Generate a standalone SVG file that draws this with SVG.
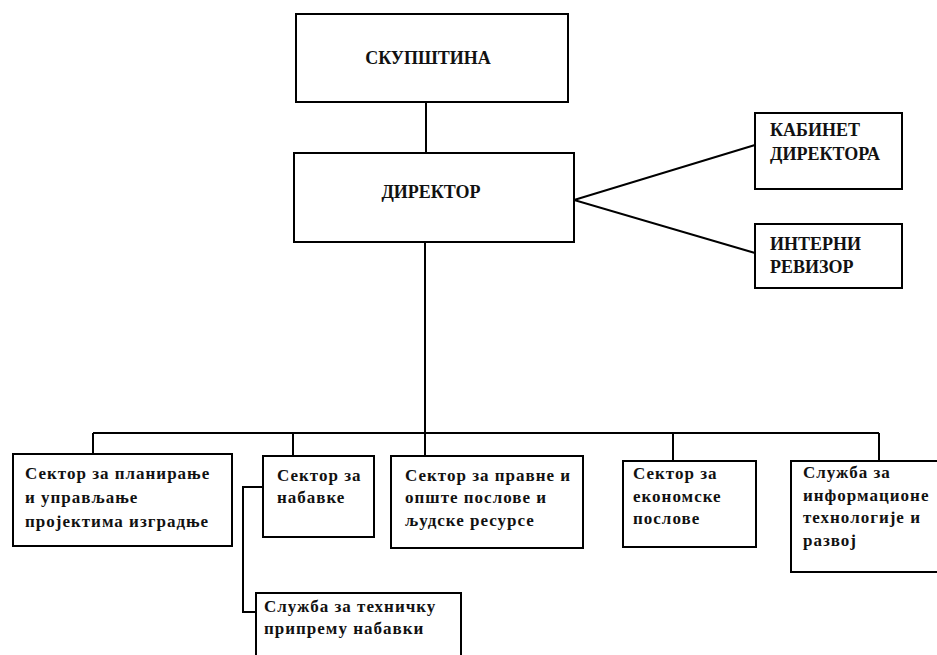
<svg xmlns="http://www.w3.org/2000/svg" width="937" height="655" viewBox="0 0 937 655">
<style>
.box{fill:#fff;stroke:#000;stroke-width:2}
.ln{fill:none;stroke:#000;stroke-width:2}
.t{font-family:'Liberation Serif','DejaVu Serif',serif;font-weight:700;fill:#111}
.cap{font-size:18px}
.sm{font-size:17px;letter-spacing:1px}
</style>
<rect width="937" height="655" fill="#fff"/>
<g id="connectors">
<line class="ln" x1="426" y1="102" x2="426" y2="153"/>
<line class="ln" x1="425" y1="242" x2="425" y2="456"/>
<polyline class="ln" points="755,145 574,200 755,253"/>
<line class="ln" x1="93" y1="433" x2="879" y2="433"/>
<line class="ln" x1="93" y1="433" x2="93" y2="454"/>
<line class="ln" x1="293" y1="433" x2="293" y2="456"/>
<line class="ln" x1="673" y1="433" x2="673" y2="461"/>
<line class="ln" x1="879" y1="433" x2="879" y2="461"/>
<polyline class="ln" points="263,487 243,487 243,612 256,612"/>
</g>
<g id="skupstina">
<rect class="box" x="296" y="14" width="272" height="88"/>
<text class="t cap" x="428" y="64" text-anchor="middle">СКУПШТИНА</text>
</g>
<g id="direktor">
<rect class="box" x="294" y="153" width="280" height="89"/>
<text class="t cap" x="431" y="198" text-anchor="middle">ДИРЕКТОР</text>
</g>
<g id="kabinet">
<rect class="box" x="755" y="113" width="147" height="76"/>
<text class="t cap" x="770" y="136">КАБИНЕТ</text>
<text class="t cap" x="770" y="160">ДИРЕКТОРА</text>
</g>
<g id="revizor">
<rect class="box" x="755" y="224" width="147" height="64"/>
<text class="t cap" x="770" y="250">ИНТЕРНИ</text>
<text class="t cap" x="770" y="273">РЕВИЗОР</text>
</g>
<g id="sektor-planiranje">
<rect class="box" x="13" y="454" width="219" height="92"/>
<text class="t sm" x="25" y="479">Сектор за планирање</text>
<text class="t sm" x="25" y="503">и управљање</text>
<text class="t sm" x="25" y="527">пројектима изградње</text>
</g>
<g id="sektor-nabavke">
<rect class="box" x="263" y="456" width="111" height="81"/>
<text class="t sm" x="277" y="481">Сектор за</text>
<text class="t sm" x="277" y="503">набавке</text>
</g>
<g id="sluzba-tehnicka">
<rect class="box" x="256" y="593" width="205" height="70"/>
<text class="t sm" x="264" y="612">Служба за техничку</text>
<text class="t sm" x="264" y="634">припрему набавки</text>
</g>
<g id="sektor-pravne">
<rect class="box" x="391" y="456" width="192" height="92"/>
<text class="t sm" x="405" y="481">Сектор за правне и</text>
<text class="t sm" x="405" y="503">опште послове и</text>
<text class="t sm" x="405" y="526">људске ресурсе</text>
</g>
<g id="sektor-ekonomske">
<rect class="box" x="623" y="461" width="133" height="86"/>
<text class="t sm" x="633" y="479">Сектор за</text>
<text class="t sm" x="633" y="502">економске</text>
<text class="t sm" x="633" y="524">послове</text>
</g>
<g id="sluzba-it">
<rect class="box" x="791" y="461" width="150" height="111"/>
<text class="t sm" x="803" y="478">Служба за</text>
<text class="t sm" x="803" y="501">информационе</text>
<text class="t sm" x="803" y="523">технологије и</text>
<text class="t sm" x="803" y="546">развој</text>
</g>
</svg>
